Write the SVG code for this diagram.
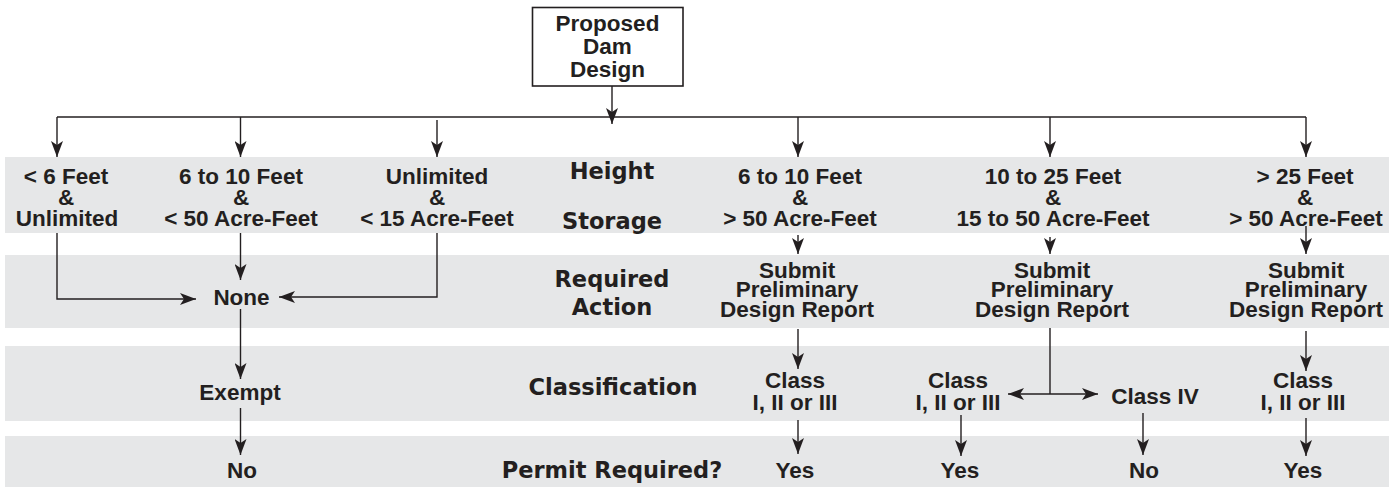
<svg xmlns="http://www.w3.org/2000/svg" width="1398" height="489" viewBox="0 0 1398 489">
<style>
.band{fill:#e6e7e8}
.t{font-family:"Liberation Sans",Arial,sans-serif;font-weight:bold;font-size:22.5px;fill:#231f20;text-anchor:middle}
.h{font-family:"DejaVu Sans",sans-serif;font-weight:bold;font-size:22.5px;fill:#231f20;text-anchor:middle}
.c{fill:none;stroke:#231f20;stroke-width:1.4}
.a{marker-end:url(#ah)}
</style>
<defs>
<marker id="ah" viewBox="0 0 16 12" refX="16" refY="6" markerWidth="16" markerHeight="12" markerUnits="userSpaceOnUse" orient="auto-start-reverse">
<path d="M0,0 L16,6 L0,12 L4,6 Z" fill="#231f20"/>
</marker>
</defs>
<rect width="1398" height="489" fill="#ffffff"/>
<g id="bands">
<rect class="band" x="5" y="157" width="1384" height="76"/>
<rect class="band" x="5" y="255" width="1384" height="73"/>
<rect class="band" x="5" y="346" width="1384" height="75"/>
<rect class="band" x="5" y="436" width="1384" height="51"/>
</g>
<g id="headers">
<text class="h" x="612" y="179">Height</text>
<text class="h" x="612" y="229">Storage</text>
<text class="h" x="612" y="287">Required</text>
<text class="h" x="612" y="315">Action</text>
<text class="h" x="613" y="395">Classification</text>
<text class="h" x="612" y="478">Permit Required?</text>
</g>
<g id="connectors">
<path class="c a" d="M612,86 V124"/>
<path class="c" d="M57,117 H1306"/>
<path class="c a" d="M57,117 V157"/>
<path class="c a" d="M240.5,117 V157"/>
<path class="c a" d="M437,120 V157"/>
<path class="c a" d="M798,117 V157"/>
<path class="c a" d="M1050,117 V157"/>
<path class="c a" d="M1306,117 V157"/>
<path class="c a" d="M57,233 V299 H196"/>
<path class="c a" d="M240.5,233 V280"/>
<path class="c a" d="M437,233 V297 H279"/>
<path class="c a" d="M240.5,309 V379"/>
<path class="c a" d="M240.5,408 V455"/>
<path class="c a" d="M798,235 V254"/>
<path class="c a" d="M1050,237 V254"/>
<path class="c a" d="M1306,226 V254"/>
<path class="c a" d="M798,329 V369"/>
<path class="c" d="M1050,328 V394"/>
<path class="c a" d="M1008,394 H1098" marker-start="url(#ah)"/>
<path class="c a" d="M1306,331 V371"/>
<path class="c a" d="M798,420 V454"/>
<path class="c a" d="M961,415 V456"/>
<path class="c a" d="M1143,413 V455"/>
<path class="c a" d="M1306,418 V456"/>
</g>
<g id="n-start">
<rect x="532.5" y="7.5" width="150.5" height="78.5" fill="#ffffff" stroke="#231f20" stroke-width="1.6"/>
<text class="t" x="607.5" y="31">Proposed</text>
<text class="t" x="607.5" y="54">Dam</text>
<text class="t" x="607.5" y="77">Design</text>
</g>
<g id="n-h1">
<text class="t" x="66" y="184">&lt; 6 Feet</text>
<text class="t" x="66" y="204.5">&amp;</text>
<text class="t" x="67" y="225.5">Unlimited</text>
</g>
<g id="n-h2">
<text class="t" x="241" y="184">6 to 10 Feet</text>
<text class="t" x="241" y="204.5">&amp;</text>
<text class="t" x="241" y="225.5">&lt; 50 Acre-Feet</text>
</g>
<g id="n-h3">
<text class="t" x="437" y="184">Unlimited</text>
<text class="t" x="437" y="204.5">&amp;</text>
<text class="t" x="437" y="225.5">&lt; 15 Acre-Feet</text>
</g>
<g id="n-h4">
<text class="t" x="800" y="184">6 to 10 Feet</text>
<text class="t" x="800" y="204.5">&amp;</text>
<text class="t" x="800" y="225.5">&gt; 50 Acre-Feet</text>
</g>
<g id="n-h5">
<text class="t" x="1053" y="184">10 to 25 Feet</text>
<text class="t" x="1053" y="204.5">&amp;</text>
<text class="t" x="1053" y="225.5">15 to 50 Acre-Feet</text>
</g>
<g id="n-h6">
<text class="t" x="1305" y="184">&gt; 25 Feet</text>
<text class="t" x="1305" y="204.5">&amp;</text>
<text class="t" x="1306" y="225.5">&gt; 50 Acre-Feet</text>
</g>
<g id="n-none">
<text class="t" x="241.5" y="305">None</text>
</g>
<g id="n-exempt">
<text class="t" x="240" y="400">Exempt</text>
</g>
<g id="n-no1">
<text class="t" x="242" y="478">No</text>
</g>
<g id="n-a4">
<text class="t" x="797" y="278">Submit</text>
<text class="t" x="797" y="297">Preliminary</text>
<text class="t" x="797" y="317">Design Report</text>
</g>
<g id="n-a5">
<text class="t" x="1052" y="278">Submit</text>
<text class="t" x="1052" y="297">Preliminary</text>
<text class="t" x="1052" y="317">Design Report</text>
</g>
<g id="n-a6">
<text class="t" x="1306" y="278">Submit</text>
<text class="t" x="1306" y="297">Preliminary</text>
<text class="t" x="1306" y="317">Design Report</text>
</g>
<g id="n-c4">
<text class="t" x="795" y="388">Class</text>
<text class="t" x="795" y="410">I, II or III</text>
</g>
<g id="n-c5a">
<text class="t" x="958" y="388">Class</text>
<text class="t" x="958" y="410">I, II or III</text>
</g>
<g id="n-c5b">
<text class="t" x="1155" y="404">Class IV</text>
</g>
<g id="n-c6">
<text class="t" x="1303" y="388">Class</text>
<text class="t" x="1303" y="410">I, II or III</text>
</g>
<g id="n-p4"><text class="t" x="795" y="478">Yes</text></g>
<g id="n-p5a"><text class="t" x="960" y="478">Yes</text></g>
<g id="n-p5b"><text class="t" x="1144" y="478">No</text></g>
<g id="n-p6"><text class="t" x="1303" y="478">Yes</text></g>
</svg>
